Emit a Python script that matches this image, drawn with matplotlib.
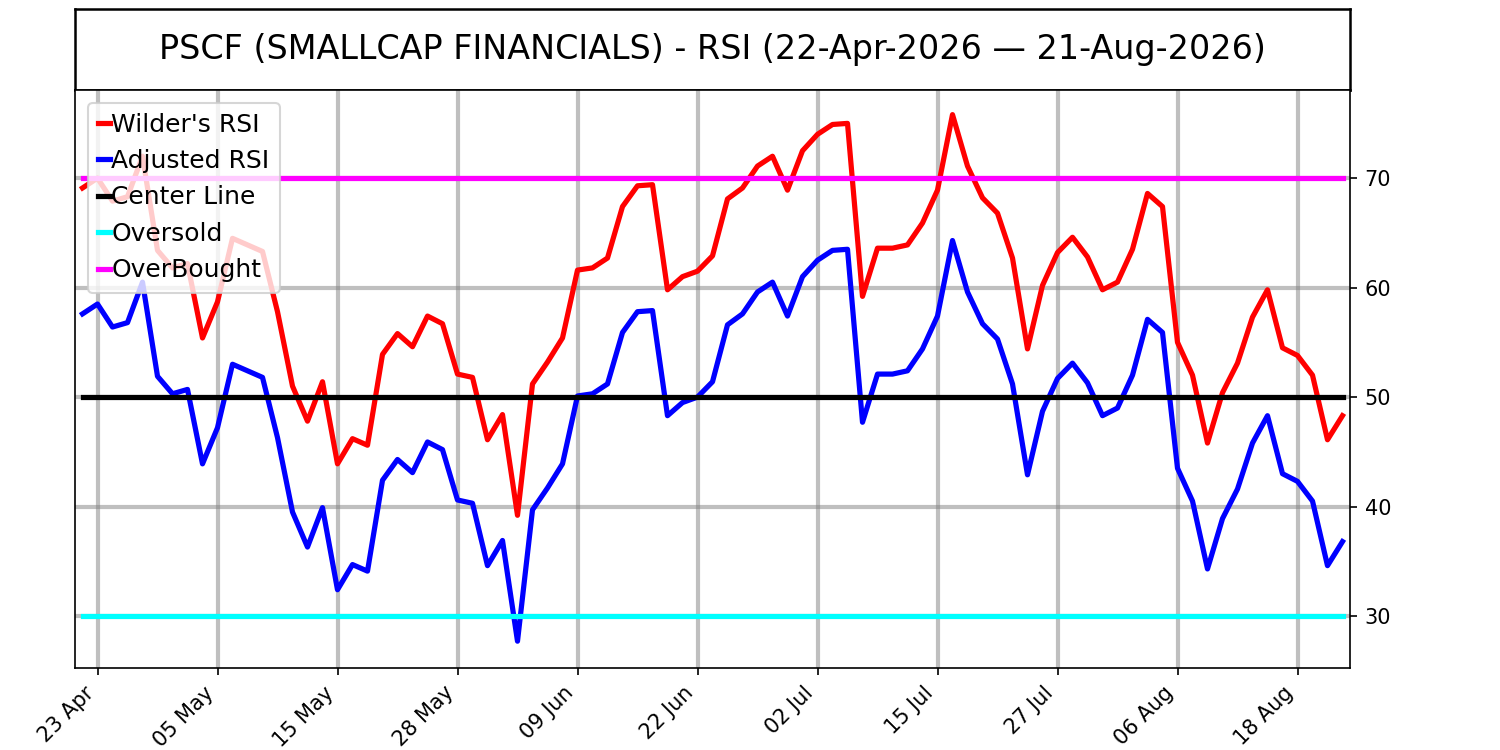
import numpy as np
import matplotlib
matplotlib.use("Agg")
import matplotlib.pyplot as plt

# RSI values (one per trading day, 22 Apr -> 21 Aug 2026)
wilder_rsi = [69.1, 70.0, 67.9, 68.3, 72.0, 63.4, 61.8, 62.2, 55.4, 58.7,
              64.5, 63.9, 63.3, 57.8, 51.0, 47.8, 51.4, 43.9, 46.2, 45.6,
              53.9, 55.8, 54.6, 57.4, 56.7, 52.1, 51.8, 46.1, 48.4, 39.2,
              51.2, 53.2, 55.4, 61.6, 61.8, 62.7, 67.4, 69.3, 69.4, 59.8,
              61.0, 61.5, 62.9, 68.1, 69.1, 71.1, 72.0, 68.9, 72.5, 74.0,
              74.9, 75.0, 59.2, 63.6, 63.6, 63.9, 65.9, 68.9, 75.8, 71.1,
              68.2, 66.8, 62.7, 54.4, 60.2, 63.2, 64.6, 62.8, 59.8, 60.5,
              63.5, 68.6, 67.4, 55.0, 52.0, 45.8, 50.4, 53.1, 57.3, 59.8,
              54.5, 53.8, 52.0, 46.1, 48.3]
adjusted_rsi = [57.6, 58.5, 56.4, 56.8, 60.5, 51.9, 50.3, 50.7, 43.9, 47.2,
                53.0, 52.4, 51.8, 46.3, 39.5, 36.3, 39.9, 32.4, 34.7, 34.1,
                42.4, 44.3, 43.1, 45.9, 45.2, 40.6, 40.3, 34.6, 36.9, 27.7,
                39.7, 41.7, 43.9, 50.1, 50.3, 51.2, 55.9, 57.8, 57.9, 48.3,
                49.5, 50.0, 51.4, 56.6, 57.6, 59.6, 60.5, 57.4, 61.0, 62.5,
                63.4, 63.5, 47.7, 52.1, 52.1, 52.4, 54.4, 57.4, 64.3, 59.6,
                56.7, 55.3, 51.2, 42.9, 48.7, 51.7, 53.1, 51.3, 48.3, 49.0,
                52.0, 57.1, 55.9, 43.5, 40.5, 34.3, 38.9, 41.6, 45.8, 48.3,
                43.0, 42.3, 40.5, 34.6, 36.8]
center_level = 50
oversold_level = 30
overbought_level = 70

tick_labels = ["23 Apr", "05 May", "15 May", "28 May", "09 Jun", "22 Jun",
               "02 Jul", "15 Jul", "27 Jul", "06 Aug", "18 Aug"]
y_ticks = [30, 40, 50, 60, 70]

title = "PSCF (SMALLCAP FINANCIALS) - RSI (22-Apr-2026 \u2014 21-Aug-2026)"

x = np.arange(len(wilder_rsi))
tick_pos = x[1::8]

fig = plt.figure(figsize=(10, 5), dpi=150)

# title box on top
tax = fig.add_axes([0.05, 0.88, 0.85, 0.108])
tax.set_xticks([])
tax.set_yticks([])
for s in tax.spines.values():
    s.set_linewidth(1.2)
tax.text(0.5, 0.5, title, fontsize=16, ha="center", va="center",
         transform=tax.transAxes)

ax = fig.add_axes([0.05, 0.1093, 0.85, 0.7707])
ax.plot(x, wilder_rsi, color="red", lw=2.5, label="Wilder's RSI")
ax.plot(x, adjusted_rsi, color="blue", lw=2.5, label="Adjusted RSI")
ax.plot(x, np.full(len(x), center_level), color="black", lw=2.5, label="Center Line")
ax.plot(x, np.full(len(x), oversold_level), color="cyan", lw=2.5, label="Oversold")
ax.plot(x, np.full(len(x), overbought_level), color="magenta", lw=2.5, label="OverBought")

ax.set_xlim(-0.5, len(x) - 0.5)
ax.set_ylim(25.25, 78.05)
ax.set_xticks(tick_pos)
ax.set_xticklabels(tick_labels, rotation=45, ha="right")
ax.yaxis.tick_right()
ax.set_yticks(y_ticks)
ax.grid(True, color="gray", alpha=0.5, lw=2)
ax.set_axisbelow(True)

ax.legend(loc="upper left", fontsize=12, handlelength=0.5, handletextpad=0.05)

fig.savefig("out.png", dpi=150)
